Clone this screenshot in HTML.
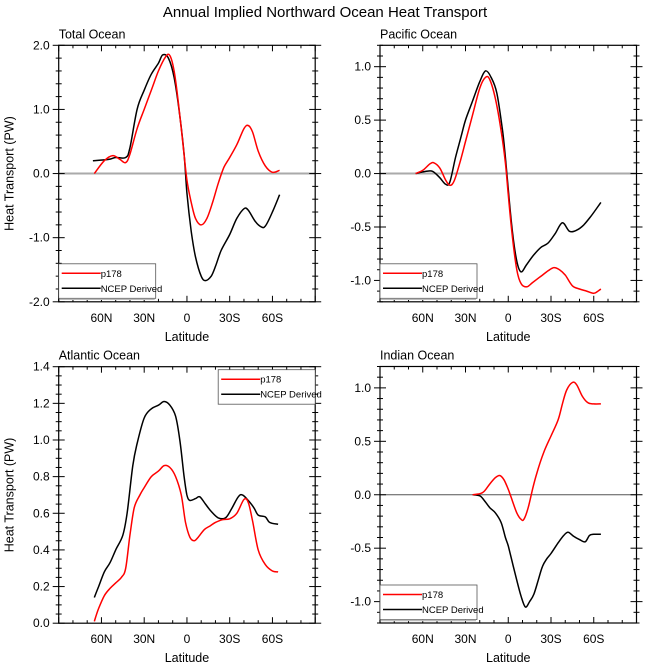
<!DOCTYPE html>
<html><head><meta charset="utf-8"><style>
body{margin:0;background:#fff;}
svg{display:block;font-family:"Liberation Sans",sans-serif;}
</style></head><body>
<svg id="c" width="650" height="670" viewBox="0 0 650 670">
<text x="325" y="17" font-size="15" text-anchor="middle">Annual Implied Northward Ocean Heat Transport</text>
</svg>
<script>
// Total Ocean
const totLatR=[65,58,52,47,43,40,35,30,25,20,15,12,9,6,3,0,-3,-6,-10,-14,-18,-22,-26,-30,-35,-40,-43,-46,-50,-55,-60,-65];
const totValR=[0,0.2,0.28,0.22,0.17,0.3,0.7,1.0,1.3,1.6,1.82,1.84,1.6,1.1,0.5,-0.1,-0.45,-0.7,-0.8,-0.7,-0.45,-0.15,0.1,0.25,0.45,0.7,0.75,0.65,0.35,0.12,0.02,0.05];
const totLatB=[66,55,50,43,40,35,30,25,20,17,13,9,5,2,0,-3,-6,-10,-13,-17,-20,-24,-30,-35,-40,-43,-48,-52,-55,-60,-65];
const totValB=[0.2,0.22,0.25,0.25,0.4,1.0,1.3,1.55,1.72,1.85,1.8,1.5,0.9,0.3,-0.3,-0.9,-1.3,-1.6,-1.67,-1.6,-1.45,-1.2,-0.95,-0.7,-0.55,-0.57,-0.75,-0.83,-0.82,-0.6,-0.33];
// Pacific
const pacLatR=[65,60,55,52,48,44,41,38,34,30,25,20,16,13,9,5,2,0,-3,-6,-9,-13,-17,-22,-28,-32,-36,-40,-45,-50,-55,-60,-63,-65];
const pacValR=[0,0.03,0.09,0.1,0.05,-0.06,-0.11,-0.07,0.1,0.3,0.55,0.8,0.9,0.88,0.7,0.4,0.1,-0.2,-0.6,-0.9,-1.03,-1.06,-1.02,-0.97,-0.91,-0.88,-0.9,-0.95,-1.05,-1.08,-1.1,-1.12,-1.1,-1.08];
const pacLatB=[65,58,53,48,44,41,37,33,30,25,20,16,12,8,4,2,0,-3,-6,-9,-13,-18,-23,-28,-33,-38,-43,-48,-53,-58,-65];
const pacValB=[0,0.02,0.02,-0.04,-0.1,-0.08,0.15,0.35,0.5,0.68,0.86,0.96,0.9,0.75,0.4,0.15,-0.15,-0.55,-0.82,-0.92,-0.85,-0.76,-0.69,-0.65,-0.56,-0.46,-0.54,-0.53,-0.48,-0.4,-0.27];
// Atlantic
const atlLatR=[65,62,58,54,50,46,43,40,37,33,30,25,20,16,12,8,4,1,-2,-5,-8,-12,-16,-20,-25,-30,-35,-40,-43,-46,-50,-55,-60,-64];
const atlValR=[0.01,0.08,0.15,0.19,0.22,0.25,0.3,0.48,0.63,0.7,0.74,0.8,0.83,0.86,0.85,0.8,0.7,0.55,0.47,0.45,0.47,0.51,0.53,0.55,0.565,0.57,0.6,0.675,0.66,0.56,0.4,0.32,0.285,0.28];
const atlLatB=[65,62,58,54,50,45,42,38,35,30,25,20,16,12,8,5,2,0,-2,-6,-9,-13,-17,-22,-27,-31,-36,-39,-43,-47,-50,-55,-58,-64];
const atlValB=[0.14,0.2,0.28,0.33,0.4,0.48,0.6,0.86,0.98,1.12,1.17,1.19,1.21,1.19,1.13,1.0,0.8,0.7,0.67,0.68,0.69,0.65,0.61,0.575,0.575,0.62,0.69,0.7,0.67,0.63,0.59,0.58,0.55,0.54];
// Indian
const indLatR=[25,20,17,13,9,6,3,0,-3,-6,-9,-11,-14,-17,-20,-25,-30,-35,-38,-41,-45,-48,-52,-56,-60,-65];
const indValR=[0,0.01,0.03,0.1,0.16,0.18,0.14,0.05,-0.06,-0.17,-0.23,-0.23,-0.12,0.05,0.2,0.4,0.55,0.7,0.85,0.98,1.05,1.03,0.92,0.86,0.85,0.85];
const indLatB=[25,20,17,13,9,5,2,0,-3,-6,-9,-12,-15,-18,-21,-24,-27,-30,-35,-39,-42,-46,-50,-54,-57,-60,-65];
const indValB=[0,-0.01,-0.05,-0.12,-0.17,-0.26,-0.4,-0.48,-0.64,-0.8,-0.95,-1.05,-1.0,-0.93,-0.8,-0.67,-0.6,-0.55,-0.45,-0.38,-0.35,-0.39,-0.42,-0.44,-0.38,-0.37,-0.37];
const xTickVals=[60,30,0,-30,-60];
const xTickLabels=["60N","30N","0","30S","60S"];

const NS="http://www.w3.org/2000/svg";
const svg=document.getElementById('c');
function mk(tag,attrs,parent){const e=document.createElementNS(NS,tag);for(const k in attrs)e.setAttribute(k,attrs[k]);(parent||svg).appendChild(e);return e;}
function smooth(pts){let d="M"+pts[0][0]+","+pts[0][1];for(let i=0;i<pts.length-1;i++){const p0=pts[Math.max(0,i-1)],p1=pts[i],p2=pts[i+1],p3=pts[Math.min(pts.length-1,i+2)];const c1=[p1[0]+(p2[0]-p0[0])/6,p1[1]+(p2[1]-p0[1])/6],c2=[p2[0]-(p3[0]-p1[0])/6,p2[1]-(p3[1]-p1[1])/6];d+="C"+c1[0].toFixed(1)+","+c1[1].toFixed(1)+" "+c2[0].toFixed(1)+","+c2[1].toFixed(1)+" "+p2[0].toFixed(1)+","+p2[1].toFixed(1);}return d;}

function panel(o){
  const g=mk('g',{});
  
  
  const L=o.x,R=o.x+256.5,T=o.y,B=o.y+256.5;
  const xs=lat=>L+(90-lat)/180*(R-L);
  const ys=v=>B-(v-o.ymin)/(o.ymax-o.ymin)*(B-T);
  const t=mk('text',{x:L,y:T-7,'font-size':12.5},g);t.textContent=o.title;
  
  if(o.ymin<0){const z=mk('line',{x1:L,x2:R,y1:ys(0),y2:ys(0),stroke:o.zc,'stroke-width':o.zw},g);
    }
  // y ticks at multiples of minor step
  const step=o.ymaj/o.nmin;
  const i0=Math.ceil(o.ymin/step-1e-6), i1=Math.floor(o.ymax/step+1e-6);
  for(let i=i0;i<=i1;i++){const v=i*step;const y=ys(v);const maj=(((i%o.nmin)+o.nmin)%o.nmin)===0;
    const len=maj?6:3;
    mk('line',{x1:L-len,x2:L,y1:y,y2:y,stroke:'#000','stroke-width':1},g);
    mk('line',{x1:R,x2:R+len,y1:y,y2:y,stroke:'#000','stroke-width':1},g);
    mk('line',{x1:L,x2:L+len,y1:y,y2:y,stroke:'#000','stroke-width':1},g);
    mk('line',{x1:R-len,x2:R,y1:y,y2:y,stroke:'#000','stroke-width':1},g);
    if(maj){const tl=mk('text',{x:L-9,y:y+4,'font-size':12,'text-anchor':'end'},g);tl.textContent=v.toFixed(1);
      }}
  for(let lat=-90;lat<=90;lat+=10){const x=xs(lat);const maj=lat%30===0;const len=maj?6:3;
    mk('line',{x1:x,x2:x,y1:B-len,y2:B,stroke:'#000','stroke-width':1},g);
    mk('line',{x1:x,x2:x,y1:T,y2:T+len,stroke:'#000','stroke-width':1},g);}
  xTickVals.forEach((lat,i)=>{const tl=mk('text',{x:xs(lat),y:B+20,'font-size':12,'text-anchor':'middle'},g);tl.textContent=xTickLabels[i];
    });
  const xl=mk('text',{x:(L+R)/2,y:B+39,'font-size':12.5,'text-anchor':'middle'},g);xl.textContent='Latitude';
  
  if(o.ylab){const yl=mk('text',{x:0,y:0,'font-size':12.5,'text-anchor':'middle',transform:`translate(${L-45},${(T+B)/2}) rotate(-90)`},g);yl.textContent='Heat Transport (PW)';
    }
  const sb=mk('path',{d:smooth(o.latB.map((l,i)=>[xs(l),ys(o.valB[i])])),fill:'none',stroke:'#000','stroke-width':1.5},g);
  
  const sr=mk('path',{d:smooth(o.latR.map((l,i)=>[xs(l),ys(o.valR[i])])),fill:'none',stroke:'#f00','stroke-width':1.5},g);
  
  const f=mk('rect',{x:L,y:T,width:R-L,height:B-T,fill:'none',stroke:'#000','stroke-width':1.2},g);
  
  const lg=mk('g',{},g);
  
  const lx=o.legRight?R-97:L, ly=o.legRight?T+3:B-38;
  mk('rect',{x:lx,y:ly,width:97,height:34.5,fill:'#fff',stroke:'#555','stroke-width':0.8},lg);
  if(!o.legRight) mk('line',{x1:lx+1,x2:lx+96,y1:ly+35.5,y2:ly+35.5,stroke:'#bbb','stroke-width':1.5},lg);
  mk('line',{x1:lx+3,x2:lx+42,y1:ly+9.5,y2:ly+9.5,stroke:'#f00','stroke-width':1.5},lg);
  mk('line',{x1:lx+3,x2:lx+42,y1:ly+24.5,y2:ly+24.5,stroke:'#000','stroke-width':1.5},lg);
  const e1=mk('text',{x:lx+42,y:ly+13,'font-size':9.5},lg);e1.textContent='p178';
  
  const e2=mk('text',{x:lx+42,y:ly+28,'font-size':9.5},lg);e2.textContent='NCEP Derived';
  
}
panel({name:'total-ocean',title:'Total Ocean',x:58.7,y:45.3,ymin:-2,ymax:2,ymaj:1,nmin:5,ylab:true,zc:'#aaa',zw:2,latR:totLatR,valR:totValR,latB:totLatB,valB:totValB});
panel({name:'pacific-ocean',title:'Pacific Ocean',x:380,y:45.3,ymin:-1.2,ymax:1.2,ymaj:0.5,nmin:5,ylab:false,zc:'#aaa',zw:2,latR:pacLatR,valR:pacValR,latB:pacLatB,valB:pacValB});
panel({name:'atlantic-ocean',title:'Atlantic Ocean',x:58.7,y:366.7,ymin:0,ymax:1.4,ymaj:0.2,nmin:4,ylab:true,legRight:true,zc:'#aaa',zw:2,latR:atlLatR,valR:atlValR,latB:atlLatB,valB:atlValB});
panel({name:'indian-ocean',title:'Indian Ocean',x:380,y:366.5,ymin:-1.2,ymax:1.2,ymaj:0.5,nmin:5,ylab:false,zc:'#555',zw:1,latR:indLatR,valR:indValR,latB:indLatB,valB:indValB});
</script>
</body></html>
